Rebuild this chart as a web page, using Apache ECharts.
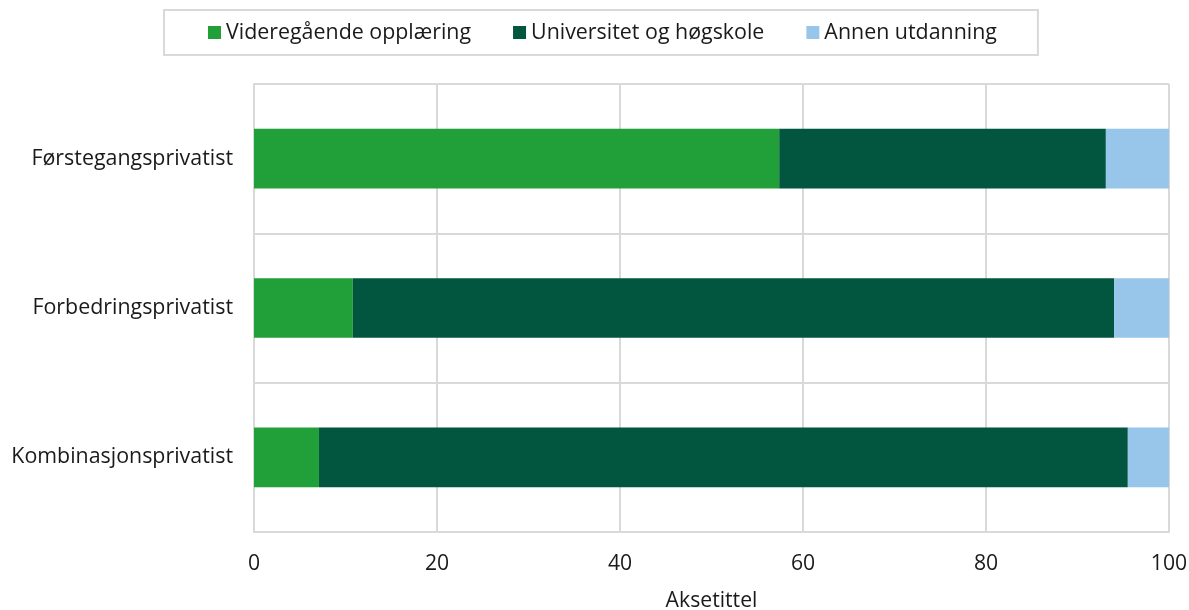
<!DOCTYPE html>
<html>
<head>
<meta charset="utf-8">
<script src="https://cdn.jsdelivr.net/npm/echarts@6/dist/echarts.min.js"></script>
<style>
  html, body { margin: 0; padding: 0; background: #fff; }
  #main { width: 1189px; height: 610px; }
</style>
</head>
<body>
<div id="main"></div>
<script>
// kategorier og verdier (prosent)
const categories = ['Førstegangsprivatist', 'Forbedringsprivatist', 'Kombinasjonsprivatist'];
const videregaende = [57.4, 10.8, 7.1];
const universitet = [35.7, 83.2, 88.4];
const annen = [6.9, 6.0, 4.5];
const xTicks = [0, 20, 40, 60, 80, 100];

const gridColor = '#d9d9d9';
const textColor = '#1a1a1a';
const font = '"Open Sans", "Noto Sans", sans-serif';

const myChart = echarts.init(document.getElementById('main'));

function bar(name, data, color) {
    return {
        name: name,
        type: 'bar',
        stack: 'total',
        data: data,
        barWidth: '40%',
        itemStyle: { color: color },
        emphasis: { disabled: true }
    };
}

const option = {
    animation: false,
    textStyle: { fontFamily: font },
    legend: {
        top: 10,
        left: 164,
        padding: [12, 41, 12, 44],
        borderColor: gridColor,
        borderWidth: 2,
        itemWidth: 13,
        itemHeight: 13,
        itemGap: 42,
        icon: 'rect',
        textStyle: { fontSize: 21.4, color: textColor, fontFamily: font }
    },
    grid: {
        left: 254,
        right: 20,
        top: 84,
        bottom: 78,
        outerBoundsMode: 'none'
    },
    xAxis: {
        type: 'value',
        min: xTicks[0],
        max: xTicks[xTicks.length - 1],
        interval: xTicks[1] - xTicks[0],
        name: 'Aksetittel',
        nameLocation: 'middle',
        nameGap: 58,
        nameTextStyle: { fontSize: 21.2, color: textColor, fontFamily: font },
        axisLine: { show: true, lineStyle: { color: gridColor, width: 2 } },
        axisTick: { show: false },
        axisLabel: { fontSize: 21.2, color: textColor, margin: 21, fontFamily: font },
        splitLine: { show: true, lineStyle: { color: gridColor, width: 2 } }
    },
    yAxis: {
        type: 'category',
        data: categories,
        inverse: true,
        axisLine: { show: true, lineStyle: { color: gridColor, width: 2 } },
        axisTick: { show: false },
        axisLabel: { fontSize: 21.4, color: textColor, margin: 21, fontFamily: font },
        splitLine: { show: true, lineStyle: { color: gridColor, width: 2 } }
    },
    series: [
        bar('Videregående opplæring', videregaende, '#21a03a'),
        bar('Universitet og høgskole', universitet, '#02553f'),
        bar('Annen utdanning', annen, '#97c6ea')
    ]
};

myChart.setOption(option);
</script>
</body>
</html>
